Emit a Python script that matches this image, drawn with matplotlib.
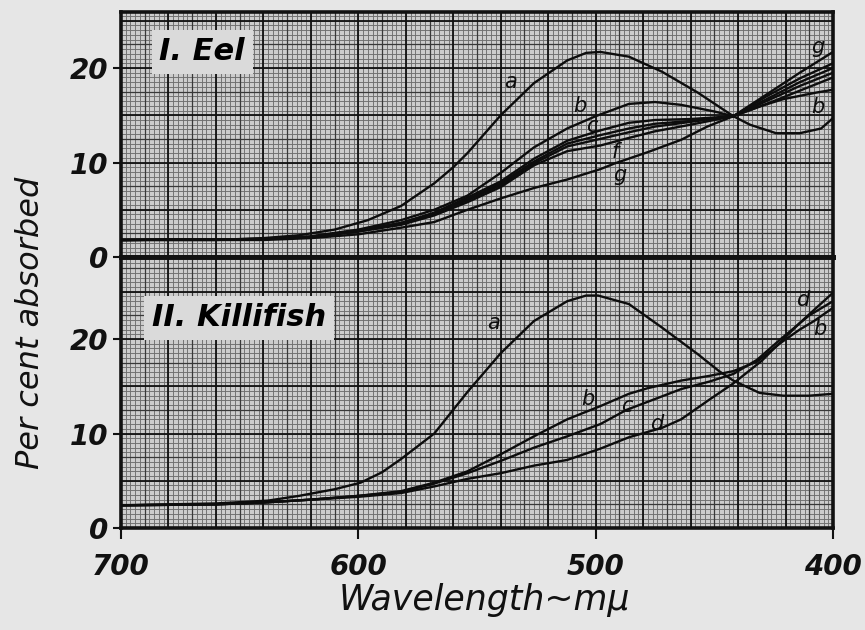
import numpy as np
import matplotlib
matplotlib.use("Agg")
import matplotlib.pyplot as plt

# ---------------- data ----------------
eel_a_x = [700, 660, 640, 625, 610, 596, 582, 568, 560, 554, 540, 526, 512, 504, 498, 486, 472, 457, 448, 442, 435, 424, 414, 405, 400]
eel_a_y = [1.8, 1.8, 2.0, 2.3, 2.9, 3.9, 5.4, 7.8, 9.5, 11.0, 15.0, 18.4, 20.8, 21.6, 21.7, 21.2, 19.6, 17.4, 15.9, 14.9, 14.0, 13.1, 13.1, 13.6, 14.7]

eel_b_x = [700, 640, 620, 600, 582, 568, 554, 540, 526, 512, 500, 486, 475, 464, 450, 442, 430, 421, 407, 400]
eel_b_y = [1.8, 1.9, 2.2, 2.9, 3.9, 5.0, 6.5, 8.9, 11.6, 13.6, 14.9, 16.2, 16.4, 16.1, 15.4, 14.9, 16.0, 16.7, 17.4, 17.7]

eel_cf_x = [700, 640, 620, 600, 582, 568, 554, 540, 526, 512, 498, 486, 475, 460, 442, 428, 414, 400]
eel_c_y = [1.8, 1.9, 2.1, 2.8, 3.6, 4.7, 6.3, 8.0, 10.4, 12.3, 13.4, 14.2, 14.5, 14.6, 14.9, 16.2, 17.6, 19.0]
eel_d_y = [1.8, 1.9, 2.1, 2.8, 3.6, 4.6, 6.1, 7.8, 10.1, 12.0, 12.9, 13.6, 14.1, 14.4, 14.9, 16.5, 18.1, 19.5]
eel_e_y = [1.8, 1.9, 2.1, 2.7, 3.5, 4.5, 6.0, 7.6, 9.9, 11.7, 12.5, 13.2, 13.8, 14.3, 14.9, 16.7, 18.5, 20.0]
eel_f_y = [1.8, 1.9, 2.1, 2.7, 3.4, 4.4, 5.8, 7.4, 9.7, 11.2, 11.8, 12.6, 13.3, 14.0, 14.9, 17.0, 18.9, 20.5]

eel_g_x = [700, 640, 620, 600, 582, 568, 554, 540, 526, 512, 498, 492, 478, 464, 453, 442, 428, 414, 400]
eel_g_y = [1.8, 1.8, 2.0, 2.4, 3.1, 3.7, 5.0, 6.2, 7.3, 8.2, 9.3, 9.9, 11.1, 12.4, 13.8, 14.9, 17.2, 19.5, 21.7]

kil_a_x = [700, 660, 638, 625, 610, 599, 590, 582, 568, 554, 540, 526, 512, 504, 499, 486, 472, 457, 448, 442, 431, 421, 410, 400]
kil_a_y = [2.4, 2.6, 2.9, 3.4, 4.1, 4.8, 5.9, 7.3, 10.0, 14.4, 18.5, 21.9, 24.0, 24.6, 24.6, 23.7, 21.2, 18.4, 16.6, 15.6, 14.3, 14.0, 14.0, 14.2]

kil_b_x = [700, 660, 640, 620, 600, 582, 568, 554, 540, 526, 512, 498, 486, 478, 464, 452, 442, 432, 422, 414, 408, 400]
kil_b_y = [2.4, 2.5, 2.7, 3.0, 3.4, 3.9, 4.8, 6.0, 7.8, 9.7, 11.5, 12.9, 14.2, 14.8, 15.6, 16.1, 16.6, 17.6, 19.6, 21.0, 21.9, 23.3]

kil_c_x = [700, 660, 640, 620, 600, 582, 568, 554, 540, 526, 512, 498, 487, 464, 452, 442, 432, 422, 410, 400]
kil_c_y = [2.4, 2.5, 2.7, 3.0, 3.4, 3.8, 4.7, 5.8, 7.1, 8.5, 9.7, 11.0, 12.5, 14.7, 15.5, 16.3, 17.8, 20.0, 22.5, 24.0]

kil_d_x = [700, 660, 640, 620, 600, 582, 568, 554, 540, 526, 512, 498, 486, 472, 464, 452, 442, 430, 414, 400]
kil_d_y = [2.4, 2.5, 2.7, 3.0, 3.3, 3.7, 4.4, 5.2, 5.8, 6.6, 7.2, 8.4, 9.6, 10.6, 11.5, 13.6, 15.3, 17.7, 21.7, 24.9]

eel_labels = [("a", 536, 18.5), ("b", 506.6, 16.0), ("c", 501.5, 13.9), ("f", 491.8, 11.1),
              ("g", 489.7, 8.7), ("g", 406.3, 22.2), ("b", 406.3, 15.9)]
kil_labels = [("a", 543.2, 21.7), ("b", 503.2, 13.7), ("c", 486.8, 12.9), ("d", 474.1, 11.0),
              ("d", 412.6, 24.1), ("b", 405.4, 21.1)]

x_ticks = [700, 600, 500, 400]
y_ticks = [0, 10, 20]

# ---------------- figure ----------------
W, H = 865, 630
fig = plt.figure(figsize=(W / 100, H / 100), dpi=100, facecolor="#e6e6e6")

left = 121 / W
width = (833 - 121) / W
ax_top = fig.add_axes([left, 1 - 257 / H, width, (257 - 12) / H])
ax_bot = fig.add_axes([left, 1 - 528 / H, width, (528 - 257) / H])

FONT = "DejaVu Sans"


def paper(ax, ymax):
    ax.set_facecolor("#cccccc")
    ax.set_xlim(700, 400)
    ax.set_ylim(0, ymax)
    # fine grid
    ax.vlines(np.arange(400, 701, 2), 0, ymax, colors="#6e6e6e", linewidth=0.65, zorder=0.5)
    ax.hlines(np.arange(0, ymax, 0.5), 400, 700, colors="#6e6e6e", linewidth=0.65, zorder=0.5)
    # medium grid
    ax.vlines(np.arange(410, 700, 20), 0, ymax, colors="#383838", linewidth=0.9, zorder=0.6)
    ax.hlines(np.arange(2.5, ymax, 5), 400, 700, colors="#383838", linewidth=0.9, zorder=0.6)
    # heavy grid
    ax.vlines(np.arange(420, 700, 20), 0, ymax, colors="#111111", linewidth=1.3, zorder=0.7)
    ax.hlines(np.arange(5, ymax, 5), 400, 700, colors="#111111", linewidth=1.3, zorder=0.7)
    for s in ax.spines.values():
        s.set_linewidth(2.6)
        s.set_color("#111111")
    ax.set_yticks(y_ticks)
    ax.set_yticklabels([str(v) for v in y_ticks], fontsize=20, fontstyle="italic",
                       fontweight="bold", family=FONT)
    ax.tick_params(axis="y", direction="out", length=6, width=1.5, pad=3, colors="#111111")


paper(ax_top, 245 / 9.45)
paper(ax_bot, 271 / 9.45)

lw = 1.7
col = "#0d0d0d"
ax_top.plot(eel_a_x, eel_a_y, color=col, lw=lw, zorder=3)
ax_top.plot(eel_b_x, eel_b_y, color=col, lw=lw, zorder=3)
for yy in (eel_c_y, eel_d_y, eel_e_y, eel_f_y):
    ax_top.plot(eel_cf_x, yy, color=col, lw=lw, zorder=3)
ax_top.plot(eel_g_x, eel_g_y, color=col, lw=lw, zorder=3)

ax_bot.plot(kil_a_x, kil_a_y, color=col, lw=lw, zorder=3)
ax_bot.plot(kil_b_x, kil_b_y, color=col, lw=lw, zorder=3)
ax_bot.plot(kil_c_x, kil_c_y, color=col, lw=lw, zorder=3)
ax_bot.plot(kil_d_x, kil_d_y, color=col, lw=lw, zorder=3)

for t, x, y in eel_labels:
    ax_top.text(x, y, t, fontsize=15, fontstyle="italic", family=FONT, ha="center", va="center",
                color=col, zorder=4)
for t, x, y in kil_labels:
    ax_bot.text(x, y, t, fontsize=15, fontstyle="italic", family=FONT, ha="center", va="center",
                color=col, zorder=4)

box = dict(boxstyle="square,pad=0.25", facecolor="#dadada", edgecolor="none")
ax_top.text(0.114, 0.837, "I. Eel", transform=ax_top.transAxes, fontsize=22, fontstyle="italic",
            fontweight="bold", family=FONT, ha="center", va="center", bbox=box, zorder=5)
ax_bot.text(0.166, 0.775, "II. Killifish", transform=ax_bot.transAxes, fontsize=22,
            fontstyle="italic", fontweight="bold", family=FONT, ha="center", va="center",
            bbox=box, zorder=5)

ax_top.set_xticks([])
ax_top.spines["bottom"].set_linewidth(3.5)
ax_bot.spines["top"].set_linewidth(3.5)
ax_bot.set_xticks(x_ticks)
ax_bot.set_xticklabels([str(v) for v in x_ticks], fontsize=20, fontstyle="italic",
                       fontweight="bold", family=FONT)
ax_bot.tick_params(axis="x", direction="out", length=8, width=1.5, pad=10, colors="#111111")

fig.text(0.035, 1 - 323 / H, "Per cent absorbed", rotation=90, fontsize=23, fontstyle="italic",
         family=FONT, ha="center", va="center", color="#111111")
fig.text(484 / W, 1 - 600 / H, "Wavelength~m\u03bc", fontsize=25, fontstyle="italic",
         family=FONT, ha="center", va="center", color="#111111")

fig.savefig("out.png", dpi=100, facecolor=fig.get_facecolor())
